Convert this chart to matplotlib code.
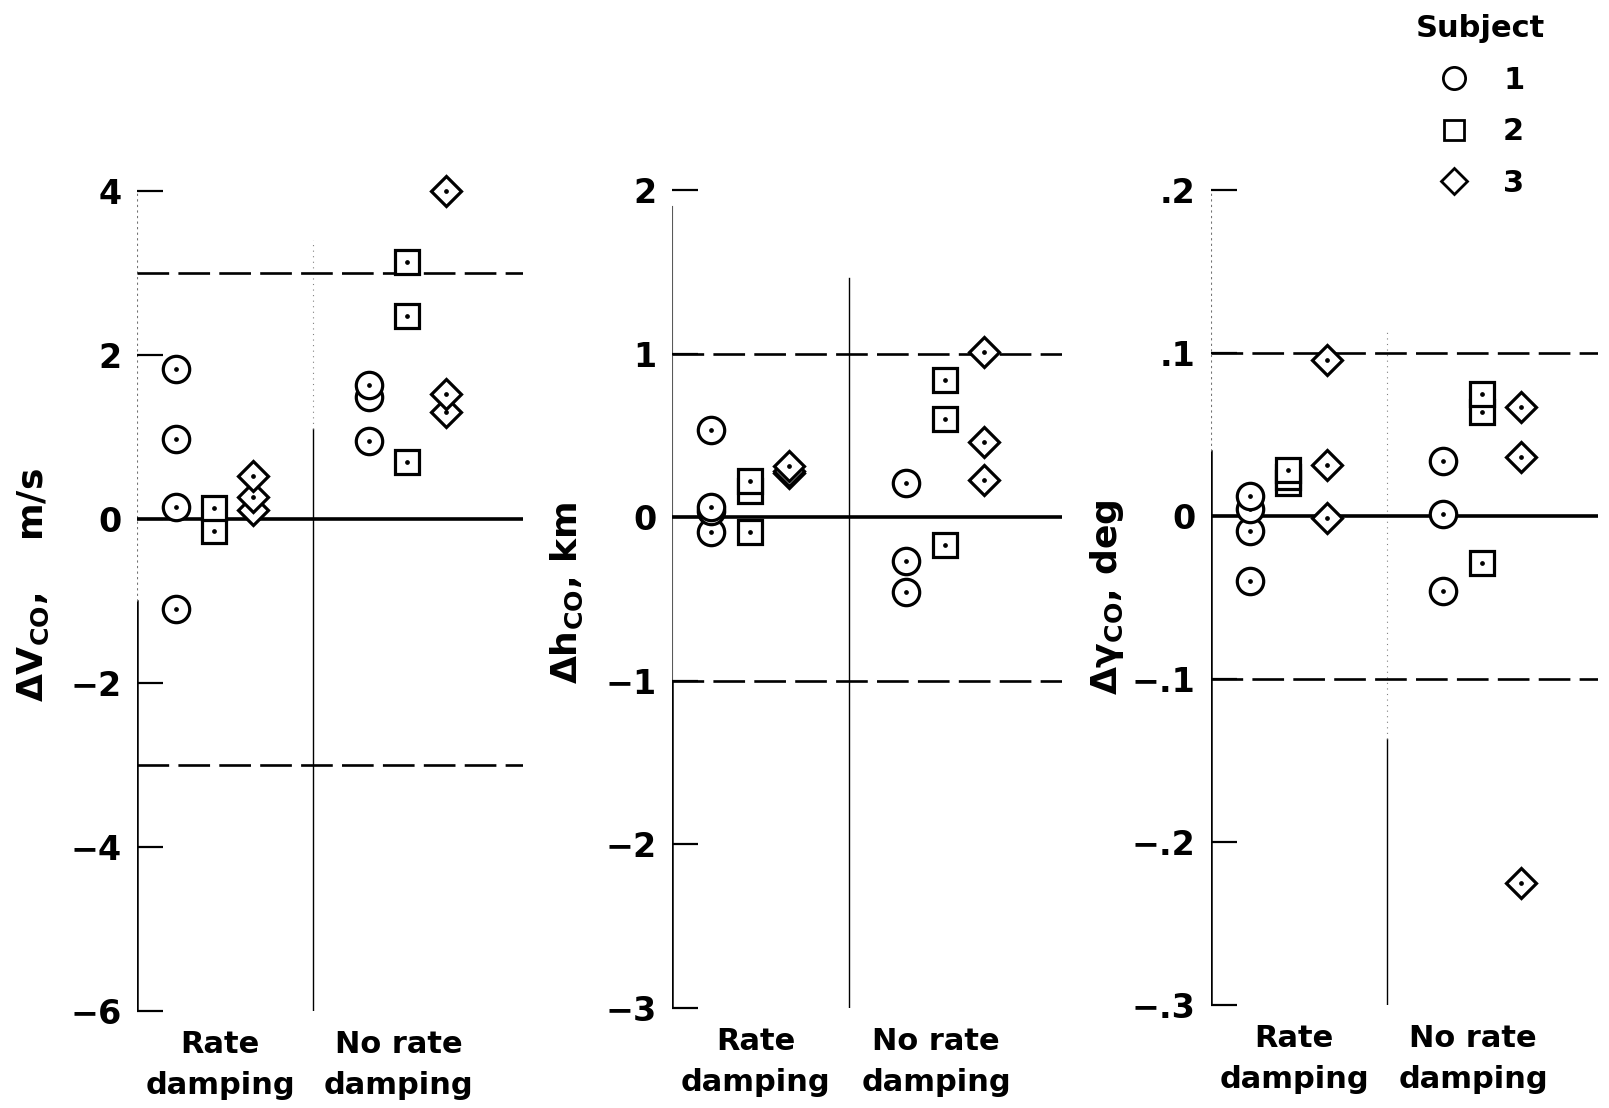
import matplotlib
matplotlib.use('Agg')
import matplotlib.pyplot as plt
from matplotlib.lines import Line2D

plt.rcParams['font.family'] = ['DejaVu Sans']
plt.rcParams['font.weight'] = 'bold'
plt.rcParams['mathtext.fontset'] = 'custom'
plt.rcParams['mathtext.rm'] = 'DejaVu Sans:bold'
plt.rcParams['mathtext.it'] = 'DejaVu Sans:bold'

# per panel, each list holds subject 1, 2, 3 values
conditions = ['Rate\ndamping', 'No rate\ndamping']
subjects = ['1', '2', '3']

dv_rate = [[1.83, 0.97, 0.15, -1.10], [0.13, -0.15], [0.52, 0.27, 0.11]]
dv_norate = [[1.63, 1.49, 0.95], [3.13, 2.47, 0.70], [4.00, 1.52, 1.31]]

dh_rate = [[0.53, 0.06, 0.04, -0.09], [0.22, 0.16, -0.09], [0.31, 0.28, 0.27]]
dh_norate = [[0.21, -0.27, -0.46], [0.84, 0.60, -0.17], [1.01, 0.46, 0.23]]

dg_rate = [[0.0125, 0.004, -0.009, -0.040], [0.028, 0.024, 0.020], [0.096, 0.031, -0.001]]
dg_norate = [[0.034, 0.001, -0.046], [0.075, 0.064, -0.029], [0.067, 0.036, -0.225]]

dv_ticks = [-6, -4, -2, 0, 2, 4]
dv_ticklabels = ['\u22126', '\u22124', '\u22122', '0', '2', '4']
dh_ticks = [-3, -2, -1, 0, 1, 2]
dh_ticklabels = ['\u22123', '\u22122', '\u22121', '0', '1', '2']
dg_ticks = [-0.3, -0.2, -0.1, 0, 0.1, 0.2]
dg_ticklabels = ['\u2212.3', '\u2212.2', '\u2212.1', '0', '.1', '.2']

dv_limit = 3
dh_limit = 1
dg_limit = 0.1

# layout (pixels on the 1609x1108 canvas)
W, H = 1609, 1108
panels = [
    dict(rect=(137, 523, 191, 1011), rate=dv_rate, norate=dv_norate,
         ticks=dv_ticks, labels=dv_ticklabels, lim=dv_limit,
         ylabel='\u0394V$_{\\mathrm{CO}}$,    m/s', lab=(-0.222, 0.52),
         axis_break=-1.0, upper_style='dotted', div_break=1.1, div_top=3.4),
    dict(rect=(672, 1062, 190, 1008), rate=dh_rate, norate=dh_norate,
         ticks=dh_ticks, labels=dh_ticklabels, lim=dh_limit,
         ylabel='\u0394h$_{\\mathrm{CO}}$, km', lab=(-0.222, 0.507),
         axis_break=-1.0, upper_style='thin', div_break=1.46, div_top=1.46),
    dict(rect=(1211, 1598, 190, 1005), rate=dg_rate, norate=dg_norate,
         ticks=dg_ticks, labels=dg_ticklabels, lim=dg_limit,
         ylabel='\u0394\u03b3$_{\\mathrm{CO}}$, deg', lab=(-0.22, 0.5),
         axis_break=0.04, upper_style='dotted', div_break=-0.137, div_top=0.114),
]

markers = ['o', 's', 'D']
msizes = [19, 17, 15]
rate_x = [1, 2, 3]
norate_x = [6, 7, 8]
divider_x = 4.55
dash = (0, (12, 3.5))


def draw_points(ax, x, vals, m, ms):
    for v in sorted(vals):
        ax.plot(x, v, marker=m, ms=ms, mfc='white', mec='black', mew=2.3,
                ls='none', clip_on=False, zorder=3)
        ax.plot(x, v, marker='o', ms=2.4, color='black', ls='none',
                clip_on=False, zorder=3)


fig = plt.figure(figsize=(W / 100, H / 100), dpi=100)

for p in panels:
    l, r, t, b = p['rect']
    ax = fig.add_axes([l / W, 1 - b / H, (r - l) / W, (b - t) / H])
    lo, hi = p['ticks'][0], p['ticks'][-1]
    ax.set_xlim(0, 10)
    ax.set_ylim(lo, hi)
    for s in ax.spines.values():
        s.set_visible(False)

    # left axis: solid lower part, faint upper part
    fb = (p['axis_break'] - lo) / (hi - lo)
    ax.axvline(0, 0, fb, color='black', lw=1.8, zorder=1)
    if p['upper_style'] == 'thin':
        ax.axvline(0, fb, 0.98, color='0.35', lw=0.8, zorder=1)
    else:
        ax.axvline(0, fb, 1, color='0.45', lw=0.8, ls=(0, (2, 3)), zorder=1)

    # divider between the two conditions
    fd = (p['div_break'] - lo) / (hi - lo)
    ft = (p['div_top'] - lo) / (hi - lo)
    ax.axvline(divider_x, 0, fd, color='black', lw=1.0, zorder=1)
    if ft > fd:
        ax.axvline(divider_x, fd, ft, color='0.5', lw=0.8, ls=(0, (1, 4)), zorder=1)

    # reference lines
    ax.axhline(0, color='black', lw=2.6, zorder=2)
    ax.axhline(p['lim'], color='black', lw=1.9, ls=dash, zorder=2)
    ax.axhline(-p['lim'], color='black', lw=1.9, ls=dash, zorder=2)

    for i in range(3):
        draw_points(ax, rate_x[i], p['rate'][i], markers[i], msizes[i])
        draw_points(ax, norate_x[i], p['norate'][i], markers[i], msizes[i])

    ax.set_xticks([])
    ax.set_yticks(p['ticks'])
    ax.set_yticklabels(p['labels'], fontsize=24, fontweight='bold')
    ax.tick_params(axis='y', direction='in', length=19, width=1.6, pad=11)

    ax.set_ylabel(p['ylabel'], fontsize=26, fontweight='bold')
    ax.yaxis.set_label_coords(*p['lab'])

    for cx, txt in zip([2.15, 6.77], conditions):
        ax.annotate(txt, xy=(cx, 0), xycoords=('data', 'axes fraction'),
                    xytext=(0, -14), textcoords='offset points',
                    ha='center', va='top', fontsize=22, fontweight='bold',
                    linespacing=1.5)

handles = [Line2D([], [], marker=m, ms=s, mfc='white', mec='black', mew=2.0, ls='none')
           for m, s in zip(markers, [16, 15, 13])]
leg = fig.legend(handles, subjects, title='Subject', loc='upper right',
                 bbox_to_anchor=(1560 / W, 1 + 1 / H), frameon=False,
                 prop={'size': 22, 'weight': 'bold'},
                 handletextpad=1.0, labelspacing=0.74,
                 borderpad=0.0, handlelength=1.2)
leg.get_title().set_fontsize(22)
leg.get_title().set_fontweight('bold')

fig.savefig('out.png', dpi=100)
